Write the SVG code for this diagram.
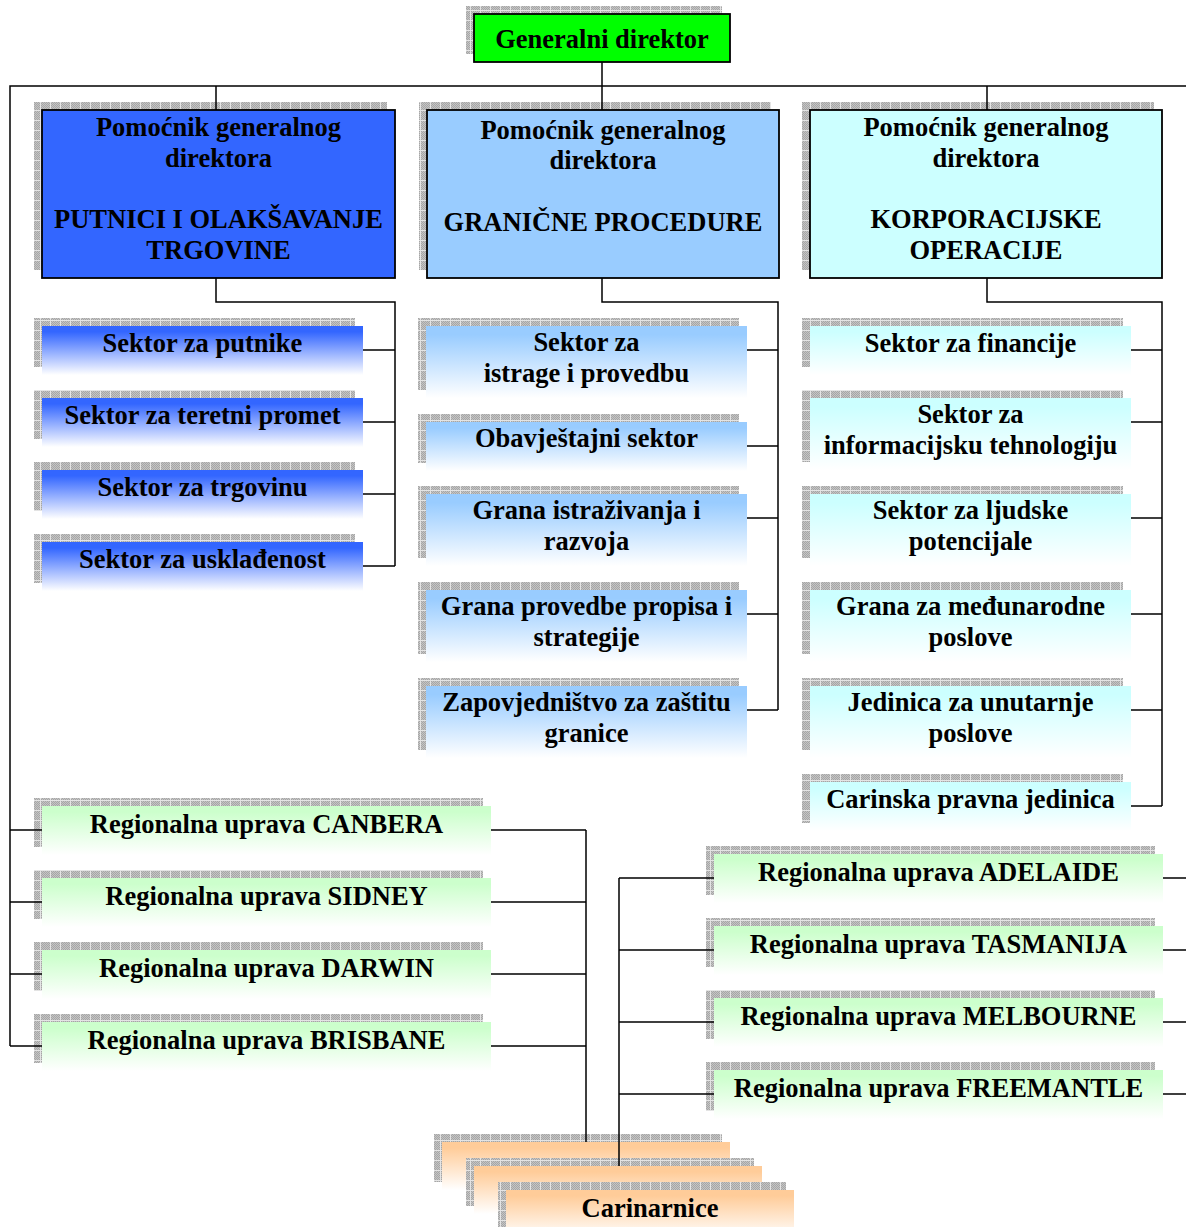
<svg xmlns="http://www.w3.org/2000/svg" width="1186" height="1227" viewBox="0 0 1186 1227">
<style>
.t{font-family:"Liberation Serif","Times New Roman",serif;font-weight:bold;font-size:26.5px;text-anchor:middle;fill:#000}
.c{fill:none;stroke:#000;stroke-width:1.5}
.sh{fill:url(#shade)}
.bx{stroke:#000;stroke-width:1.8}
.gl{fill:url(#gLeft)}
.gm{fill:url(#gMid)}
.gr{fill:url(#gRight)}
.gg{fill:url(#gGreen)}
.go{fill:url(#gOrange)}
</style>
<defs>
<pattern id="chk" width="2" height="2" patternUnits="userSpaceOnUse">
<rect width="2" height="2" fill="#c4c4c4"/>
<rect width="1" height="1" fill="#a6a6a6"/>
<rect x="1" y="1" width="1" height="1" fill="#a6a6a6"/>
</pattern>
<pattern id="shade" width="10" height="10" patternUnits="userSpaceOnUse">
<rect width="10" height="10" fill="url(#chk)"/>
<rect width="1" height="10" fill="#e4e4e4"/>
<rect width="10" height="1" fill="#e4e4e4"/>
</pattern>
<linearGradient id="gLeft" x1="0" y1="0" x2="0" y2="1"><stop offset="0" stop-color="#3366FF"/><stop offset="0.12" stop-color="#3366FF"/><stop offset="1" stop-color="#FFFFFF"/></linearGradient>
<linearGradient id="gMid" x1="0" y1="0" x2="0" y2="1"><stop offset="0" stop-color="#99CCFF"/><stop offset="0.12" stop-color="#99CCFF"/><stop offset="1" stop-color="#FFFFFF"/></linearGradient>
<linearGradient id="gRight" x1="0" y1="0" x2="0" y2="1"><stop offset="0" stop-color="#CCFFFF"/><stop offset="0.12" stop-color="#CCFFFF"/><stop offset="1" stop-color="#FFFFFF"/></linearGradient>
<linearGradient id="gGreen" x1="0" y1="0" x2="0" y2="1"><stop offset="0" stop-color="#CCFFCC"/><stop offset="0.12" stop-color="#CCFFCC"/><stop offset="1" stop-color="#FFFFFF"/></linearGradient>
<linearGradient id="gOrange" x1="0" y1="0" x2="0" y2="1"><stop offset="0" stop-color="#FFCC99"/><stop offset="0.12" stop-color="#FFCC99"/><stop offset="1" stop-color="#FFFFFF"/></linearGradient>
</defs>
<rect width="1186" height="1227" fill="#fff"/>

<g id="generalni-direktor">
<rect class="sh" x="466" y="6" width="256" height="48"/>
<rect class="bx" x="474" y="14" width="256" height="48" fill="#00FF00"/>
<text class="t" x="602" y="48">Generalni direktor</text>
</g>

<g id="pomocnik-putnici">
<rect class="sh" x="34" y="102" width="353" height="168"/>
<rect class="bx" x="42" y="110" width="353" height="168" fill="#3366FF"/>
<text class="t" x="218.5" y="135.5">Pomoćnik generalnog</text>
<text class="t" x="218.5" y="166.5">direktora</text>
<text class="t" x="218.5" y="228">PUTNICI I OLAKŠAVANJE</text>
<text class="t" x="218.5" y="258.5">TRGOVINE</text>
</g>
<g id="pomocnik-granicne">
<rect class="sh" x="419" y="102" width="352" height="168"/>
<rect class="bx" x="427" y="110" width="352" height="168" fill="#99CCFF"/>
<text class="t" x="603" y="138.5">Pomoćnik generalnog</text>
<text class="t" x="603" y="169">direktora</text>
<text class="t" x="603" y="231">GRANIČNE PROCEDURE</text>
</g>
<g id="pomocnik-korporacijske">
<rect class="sh" x="802" y="102" width="352" height="168"/>
<rect class="bx" x="810" y="110" width="352" height="168" fill="#CCFFFF"/>
<text class="t" x="986" y="135.5">Pomoćnik generalnog</text>
<text class="t" x="986" y="166.5">direktora</text>
<text class="t" x="986" y="228">KORPORACIJSKE</text>
<text class="t" x="986" y="258.5">OPERACIJE</text>
</g>

<g id="sektor-putnike"><rect class="sh" x="34" y="318" width="321" height="49"/><rect class="gl" x="42" y="326" width="321" height="49"/><text class="t" x="202.5" y="351.5">Sektor za putnike</text></g>
<g id="sektor-teretni"><rect class="sh" x="34" y="390" width="321" height="49"/><rect class="gl" x="42" y="398" width="321" height="49"/><text class="t" x="202.5" y="423.5">Sektor za teretni promet</text></g>
<g id="sektor-trgovinu"><rect class="sh" x="34" y="462" width="321" height="49"/><rect class="gl" x="42" y="470" width="321" height="49"/><text class="t" x="202.5" y="495.5">Sektor za trgovinu</text></g>
<g id="sektor-uskladenost"><rect class="sh" x="34" y="534" width="321" height="49"/><rect class="gl" x="42" y="542" width="321" height="49"/><text class="t" x="202.5" y="567.5">Sektor za usklađenost</text></g>

<g id="sektor-istrage"><rect class="sh" x="418" y="318" width="321" height="72"/><rect class="gm" x="426" y="326" width="321" height="72"/><text class="t" x="586.5" y="351">Sektor za</text><text class="t" x="586.5" y="382">istrage i provedbu</text></g>
<g id="obavjestajni"><rect class="sh" x="418" y="414" width="321" height="49"/><rect class="gm" x="426" y="422" width="321" height="49"/><text class="t" x="586.5" y="447">Obavještajni sektor</text></g>
<g id="grana-istrazivanja"><rect class="sh" x="418" y="486" width="321" height="72"/><rect class="gm" x="426" y="494" width="321" height="72"/><text class="t" x="586.5" y="519">Grana istraživanja i</text><text class="t" x="586.5" y="550">razvoja</text></g>
<g id="grana-provedbe"><rect class="sh" x="418" y="582" width="321" height="72"/><rect class="gm" x="426" y="590" width="321" height="72"/><text class="t" x="586.5" y="615">Grana provedbe propisa i</text><text class="t" x="586.5" y="646">strategije</text></g>
<g id="zapovjednistvo"><rect class="sh" x="418" y="678" width="321" height="72"/><rect class="gm" x="426" y="686" width="321" height="72"/><text class="t" x="586.5" y="711">Zapovjedništvo za zaštitu</text><text class="t" x="586.5" y="742">granice</text></g>

<g id="sektor-financije"><rect class="sh" x="802" y="318" width="321" height="49"/><rect class="gr" x="810" y="326" width="321" height="49"/><text class="t" x="970.5" y="351.5">Sektor za financije</text></g>
<g id="sektor-it"><rect class="sh" x="802" y="390" width="321" height="72"/><rect class="gr" x="810" y="398" width="321" height="72"/><text class="t" x="970.5" y="423">Sektor za</text><text class="t" x="970.5" y="454">informacijsku tehnologiju</text></g>
<g id="sektor-ljudske"><rect class="sh" x="802" y="486" width="321" height="72"/><rect class="gr" x="810" y="494" width="321" height="72"/><text class="t" x="970.5" y="519">Sektor za ljudske</text><text class="t" x="970.5" y="550">potencijale</text></g>
<g id="grana-medunarodne"><rect class="sh" x="802" y="582" width="321" height="72"/><rect class="gr" x="810" y="590" width="321" height="72"/><text class="t" x="970.5" y="615">Grana za međunarodne</text><text class="t" x="970.5" y="646">poslove</text></g>
<g id="jedinica-unutarnje"><rect class="sh" x="802" y="678" width="321" height="72"/><rect class="gr" x="810" y="686" width="321" height="72"/><text class="t" x="970.5" y="711">Jedinica za unutarnje</text><text class="t" x="970.5" y="742">poslove</text></g>
<g id="carinska-pravna"><rect class="sh" x="802" y="774" width="321" height="49"/><rect class="gr" x="810" y="782" width="321" height="49"/><text class="t" x="970.5" y="807.5">Carinska pravna jedinica</text></g>

<g id="ru-canbera"><rect class="sh" x="34" y="798" width="449" height="49"/><rect class="gg" x="42" y="806" width="449" height="49"/><text class="t" x="266.5" y="833">Regionalna uprava CANBERA</text></g>
<g id="ru-sidney"><rect class="sh" x="34" y="870" width="449" height="49"/><rect class="gg" x="42" y="878" width="449" height="49"/><text class="t" x="266.5" y="905">Regionalna uprava SIDNEY</text></g>
<g id="ru-darwin"><rect class="sh" x="34" y="942" width="449" height="49"/><rect class="gg" x="42" y="950" width="449" height="49"/><text class="t" x="266.5" y="977">Regionalna uprava DARWIN</text></g>
<g id="ru-brisbane"><rect class="sh" x="34" y="1014" width="449" height="49"/><rect class="gg" x="42" y="1022" width="449" height="49"/><text class="t" x="266.5" y="1049">Regionalna uprava BRISBANE</text></g>

<g id="ru-adelaide"><rect class="sh" x="706" y="846" width="449" height="49"/><rect class="gg" x="714" y="854" width="449" height="49"/><text class="t" x="938.5" y="881">Regionalna uprava ADELAIDE</text></g>
<g id="ru-tasmanija"><rect class="sh" x="706" y="918" width="449" height="49"/><rect class="gg" x="714" y="926" width="449" height="49"/><text class="t" x="938.5" y="953">Regionalna uprava TASMANIJA</text></g>
<g id="ru-melbourne"><rect class="sh" x="706" y="990" width="449" height="49"/><rect class="gg" x="714" y="998" width="449" height="49"/><text class="t" x="938.5" y="1025">Regionalna uprava MELBOURNE</text></g>
<g id="ru-freemantle"><rect class="sh" x="706" y="1062" width="449" height="49"/><rect class="gg" x="714" y="1070" width="449" height="49"/><text class="t" x="938.5" y="1097">Regionalna uprava FREEMANTLE</text></g>

<g id="carinarnice">
<rect class="sh" x="434" y="1134" width="288" height="48"/><rect class="go" x="442" y="1142" width="288" height="48"/>
<rect class="sh" x="466" y="1158" width="288" height="48"/><rect class="go" x="474" y="1166" width="288" height="48"/>
<rect class="sh" x="498" y="1182" width="288" height="48"/><rect class="go" x="506" y="1190" width="288" height="48"/>
<text class="t" x="650" y="1217">Carinarnice</text>
</g>

<g id="connectors" class="c">
<path d="M602 62V110"/>
<path d="M10 1046V86H1186"/>
<path d="M216 86V110M987 86V110"/>
<path d="M216 278V302H395V566M363 350H395M363 422H395M363 494H395M363 566H395"/>
<path d="M602 278V302H778V710M747 350H778M747 446H778M747 518H778M747 614H778M747 710H778"/>
<path d="M987 278V302H1162V806M1131 350H1162M1131 422H1162M1131 518H1162M1131 614H1162M1131 710H1162M1131 806H1162"/>
<path d="M10 830H42M10 902H42M10 974H42M10 1046H42"/>
<path d="M491 830H586M491 902H586M491 974H586M491 1046H586M586 830V1142"/>
<path d="M619 878V1166M619 878H714M619 950H714M619 1022H714M619 1094H714"/>
<path d="M1163 878H1186M1163 950H1186M1163 1022H1186M1163 1094H1186"/>
</g>
</svg>
